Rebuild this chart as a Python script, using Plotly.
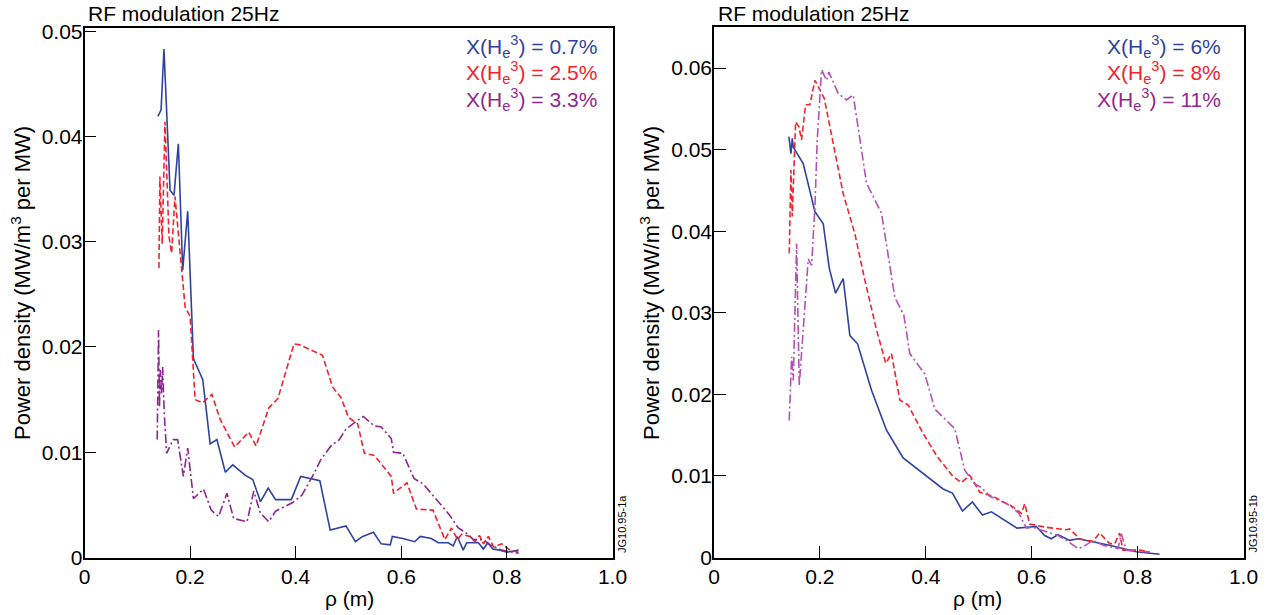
#%% Import libraries
import plotly.graph_objects as go

#%% Data (rho in m, power density in MW/m3 per MW)
# left panel : X(He3) = 0.7%, 2.5%, 3.3%
rho_07 = [0.139, 0.145, 0.1505, 0.162, 0.1695, 0.1777, 0.186, 0.1955, 0.2063, 0.224, 0.238, 0.2508,
          0.2667, 0.2806, 0.3048, 0.3187, 0.3333, 0.3479, 0.3619, 0.3917, 0.4095, 0.4457, 0.4653,
          0.4952, 0.513, 0.527, 0.5473, 0.5619, 0.579, 0.583, 0.603, 0.6254, 0.636, 0.657, 0.6698,
          0.6889, 0.6984, 0.706, 0.7173, 0.7238, 0.746, 0.7555, 0.7638, 0.7733, 0.787, 0.8, 0.822]
pd_07 = [0.0419, 0.0425, 0.0483, 0.0349, 0.0344, 0.0393, 0.0273, 0.0329, 0.0189, 0.0169, 0.0108, 0.0112,
         0.0081, 0.0088, 0.0078, 0.0074, 0.0053, 0.0066, 0.0055, 0.0055, 0.0077, 0.0073, 0.0026,
         0.0030, 0.0015, 0.0020, 0.0024, 0.0013, 0.0012, 0.0020, 0.0018, 0.0015, 0.0020, 0.0018, 0.0014,
         0.0014, 0.0011, 0.0020, 0.0007, 0.0014, 0.0014, 0.0008, 0.0014, 0.0008, 0.0007, 0.0005, 0.0007]

rho_25 = [0.141, 0.1428, 0.1472, 0.1524, 0.16, 0.165, 0.1714, 0.184, 0.1905, 0.2, 0.2095, 0.2234,
          0.2412, 0.2571, 0.2844, 0.311, 0.325, 0.349, 0.3663, 0.3968, 0.408, 0.4508, 0.4698, 0.4857,
          0.5, 0.5174, 0.530, 0.549, 0.581, 0.5853, 0.6107, 0.6286, 0.660, 0.6825, 0.695, 0.7067,
          0.714, 0.730, 0.7397, 0.7479, 0.7555, 0.765, 0.7746, 0.790, 0.806, 0.822]
pd_25 = [0.0275, 0.0362, 0.0298, 0.0414, 0.0305, 0.0289, 0.0343, 0.0273, 0.0238, 0.0229, 0.0150, 0.0147,
         0.0155, 0.0131, 0.0105, 0.0119, 0.0106, 0.0142, 0.0151, 0.0203, 0.0202, 0.0192, 0.0162, 0.0152,
         0.0133, 0.0127, 0.0099, 0.0097, 0.0077, 0.0061, 0.0071, 0.0046, 0.0045, 0.0017, 0.0028, 0.0017,
         0.0022, 0.0020, 0.0015, 0.0021, 0.0013, 0.0020, 0.0010, 0.0013, 0.0007, 0.0005]

rho_33 = [0.1377, 0.1402, 0.142, 0.1434, 0.146, 0.148, 0.151, 0.1555, 0.168, 0.1764, 0.1872, 0.1955,
          0.2063, 0.2253, 0.24, 0.254, 0.2698, 0.2825, 0.3079, 0.3206, 0.3333, 0.349, 0.3619, 0.3936,
          0.4114, 0.4317, 0.4476, 0.4667, 0.4825, 0.4952, 0.514, 0.528, 0.549, 0.5619, 0.581, 0.5853,
          0.603, 0.624, 0.6413, 0.6667, 0.692, 0.708, 0.7238, 0.7365, 0.7555, 0.768, 0.79, 0.822]
pd_33 = [0.0112, 0.0216, 0.0143, 0.0178, 0.0156, 0.0181, 0.0137, 0.0099, 0.0112, 0.0112, 0.0077, 0.0104,
         0.0056, 0.0065, 0.0045, 0.0039, 0.0061, 0.0037, 0.0034, 0.0063, 0.0042, 0.0034, 0.0044, 0.0052,
         0.0059, 0.0077, 0.0093, 0.0106, 0.0112, 0.0122, 0.0129, 0.0134, 0.0125, 0.0124, 0.0113, 0.0100,
         0.0099, 0.0075, 0.0070, 0.0055, 0.0040, 0.0028, 0.0023, 0.0017, 0.0017, 0.0012, 0.0007, 0.0004]

# right panel : X(He3) = 6%, 8%, 11%
rho_6 = [0.1415, 0.1453, 0.1478, 0.1497, 0.1685, 0.1906, 0.2063, 0.2176, 0.2296, 0.244, 0.2566, 0.2711,
         0.2975, 0.3258, 0.3572, 0.4327, 0.4503, 0.4692, 0.488, 0.507, 0.524, 0.5723, 0.6088, 0.6245,
         0.637, 0.6497, 0.6717, 0.6874, 0.747, 0.7975, 0.8415]
pd_6 = [0.0516, 0.0495, 0.0514, 0.0503, 0.0483, 0.0424, 0.0409, 0.0355, 0.0324, 0.0342, 0.0272, 0.0262,
        0.0205, 0.0156, 0.0122, 0.0084, 0.0079, 0.0057, 0.0068, 0.0052, 0.0056, 0.0036, 0.0038, 0.0027,
        0.0023, 0.0028, 0.0021, 0.0023, 0.0015, 0.0007, 0.0004]

rho_8 = [0.1421, 0.1453, 0.1478, 0.1541, 0.1604, 0.1654, 0.173, 0.1811, 0.1906, 0.2019, 0.2082, 0.2107,
         0.2283, 0.244, 0.266, 0.2849, 0.307, 0.3245, 0.3352, 0.351, 0.3666, 0.395, 0.4202, 0.4516,
         0.4673, 0.483, 0.5019, 0.527, 0.5648, 0.5805, 0.5868, 0.5962, 0.6277, 0.6654, 0.6717, 0.6906,
         0.703, 0.7157, 0.7283, 0.747, 0.757, 0.766, 0.7723, 0.8038, 0.8226]
pd_8 = [0.0373, 0.0475, 0.0418, 0.0534, 0.0528, 0.0512, 0.0555, 0.0555, 0.0585, 0.0571, 0.0563, 0.0555,
        0.0499, 0.0446, 0.0397, 0.0340, 0.0279, 0.0238, 0.0250, 0.0193, 0.0187, 0.0152, 0.0125, 0.0099,
        0.0092, 0.0101, 0.0080, 0.0075, 0.0062, 0.0054, 0.0066, 0.0041, 0.0037, 0.0034, 0.0035, 0.0023,
        0.0021, 0.0020, 0.0030, 0.0017, 0.0017, 0.0030, 0.0009, 0.0009, 0.0007]

rho_11 = [0.1421, 0.1466, 0.1497, 0.156, 0.161, 0.178, 0.1843, 0.1906, 0.195, 0.2032, 0.2126, 0.217,
          0.2346, 0.2503, 0.2629, 0.288, 0.3164, 0.3415, 0.3585, 0.3698, 0.3981, 0.417, 0.4547, 0.4736,
          0.4925, 0.505, 0.5208, 0.5458, 0.5585, 0.576, 0.59, 0.6025, 0.6214, 0.6497, 0.6654, 0.6874,
          0.697, 0.7157, 0.7346, 0.763, 0.7692, 0.7786, 0.804, 0.8226]
pd_11 = [0.0168, 0.0246, 0.0217, 0.0385, 0.0211, 0.0366, 0.0358, 0.0430, 0.0512, 0.0598, 0.0585, 0.0595,
         0.0569, 0.0561, 0.0567, 0.0459, 0.0422, 0.0319, 0.0297, 0.0250, 0.0225, 0.0182, 0.0158, 0.0107,
         0.0090, 0.0086, 0.0075, 0.0068, 0.0064, 0.0054, 0.0036, 0.0037, 0.0033, 0.0027, 0.0021, 0.0011,
         0.0013, 0.0021, 0.0015, 0.0011, 0.0029, 0.0009, 0.0007, 0.0007]

x_ticks = [0, 0.2, 0.4, 0.6, 0.8, 1.0]
x_labels = ["0", "0.2", "0.4", "0.6", "0.8", "1.0"]
y_ticks_left = [0, 0.01, 0.02, 0.03, 0.04, 0.05]
y_labels_left = ["0", "0.01", "0.02", "0.03", "0.04", "0.05"]
y_ticks_right = [0, 0.01, 0.02, 0.03, 0.04, 0.05, 0.06]
y_labels_right = ["0", "0.01", "0.02", "0.03", "0.04", "0.05", "0.06"]

legend_left = ["X(H<sub>e</sub><sup>3</sup>) = 0.7%", "X(H<sub>e</sub><sup>3</sup>) = 2.5%",
               "X(H<sub>e</sub><sup>3</sup>) = 3.3%"]
legend_right = ["X(H<sub>e</sub><sup>3</sup>) = 6%", "X(H<sub>e</sub><sup>3</sup>) = 8%",
                "X(H<sub>e</sub><sup>3</sup>) = 11%"]

#%% Colours / styles
BLUE = "#2f42a0"
RED = "#f2232d"
PURPLE_L = "#8e2590"
PURPLE_R = "#b550b5"
TXT_PURPLE = "#92278f"
FONT = "Liberation Sans, Arial, sans-serif"
W, H = 1272, 615

fig = go.Figure()

fig.add_trace(go.Scatter(x=rho_07, y=pd_07, mode="lines", line=dict(color=BLUE, width=1.6),
                         xaxis="x", yaxis="y"))
fig.add_trace(go.Scatter(x=rho_25, y=pd_25, mode="lines", line=dict(color=RED, width=1.6, dash="6px,3px"),
                         xaxis="x", yaxis="y"))
fig.add_trace(go.Scatter(x=rho_33, y=pd_33, mode="lines",
                         line=dict(color=PURPLE_L, width=1.6, dash="9px,3px,2px,3px"),
                         xaxis="x", yaxis="y"))

fig.add_trace(go.Scatter(x=rho_6, y=pd_6, mode="lines", line=dict(color=BLUE, width=1.6),
                         xaxis="x2", yaxis="y2"))
fig.add_trace(go.Scatter(x=rho_8, y=pd_8, mode="lines", line=dict(color=RED, width=1.6, dash="6px,3px"),
                         xaxis="x2", yaxis="y2"))
fig.add_trace(go.Scatter(x=rho_11, y=pd_11, mode="lines",
                         line=dict(color=PURPLE_R, width=1.6, dash="9px,3px,2px,3px"),
                         xaxis="x2", yaxis="y2"))

# axes, box style with inner ticks
ax = dict(showline=True, mirror=True, linecolor="black", linewidth=1.5, ticks="inside", ticklen=12,
          tickwidth=1.2, tickcolor="black", showgrid=False, zeroline=False, automargin=False,
          tickfont=dict(family=FONT, size=21, color="black"), fixedrange=True)

dom_xl = [84.5 / W, 612.5 / W]
dom_xr = [714 / W, 1243.5 / W]
dom_yl = [(H - 557.5) / H, (H - 28) / H]
dom_yr = [(H - 557.5) / H, (H - 26.5) / H]

fig.update_layout(
    width=W, height=H, margin=dict(l=0, r=0, t=0, b=0),
    paper_bgcolor="white", plot_bgcolor="white", showlegend=False,
    font=dict(family=FONT, color="black"),
    xaxis=dict(ax, domain=dom_xl, range=[0, 1.0], tickvals=x_ticks, ticktext=x_labels, anchor="y"),
    yaxis=dict(ax, domain=dom_yl, range=[0, 0.0503], tickvals=y_ticks_left, ticktext=y_labels_left,
               anchor="x", ticklabelstandoff=-4),
    xaxis2=dict(ax, domain=dom_xr, range=[0, 1.0], tickvals=x_ticks, ticktext=x_labels, anchor="y2"),
    yaxis2=dict(ax, domain=dom_yr, range=[0, 0.0651], tickvals=y_ticks_right, ticktext=y_labels_right,
                anchor="x2", ticklabelstandoff=-4),
)

#%% Annotations: panel titles, axis titles, legends, figure ids
ytitle = "Power density (MW/m<sup>3</sup> per MW)"
for x0, xt, yt in [(86, 349, 21), (716, 977, 650)]:
    fig.add_annotation(x=x0 / W, y=1 - 14 / H, xref="paper", yref="paper", xanchor="left", yanchor="middle",
                       text="RF modulation 25Hz", showarrow=False, font=dict(size=21, color="black"))
    fig.add_annotation(x=xt / W, y=1 - 598 / H, xref="paper", yref="paper", xanchor="center",
                       yanchor="middle", text="ρ (m)", showarrow=False, font=dict(size=21, color="black"))
    fig.add_annotation(x=yt / W, y=1 - 283 / H, xref="paper", yref="paper", xanchor="center",
                       yanchor="middle", text=ytitle, textangle=-90, showarrow=False,
                       font=dict(size=22, color="black"))

leg_cols = [BLUE, RED, TXT_PURPLE]
for i, (tl, tr) in enumerate(zip(legend_left, legend_right)):
    yy = 1 - (47 + 26 * i) / H
    fig.add_annotation(x=599 / W, y=yy, xref="paper", yref="paper", xanchor="right", yanchor="middle",
                       text=tl, showarrow=False, font=dict(size=21, color=leg_cols[i]))
    fig.add_annotation(x=1223 / W, y=yy, xref="paper", yref="paper", xanchor="right", yanchor="middle",
                       text=tr, showarrow=False, font=dict(size=21, color=leg_cols[i]))

for x0, lab in [(622 / W, "JG10.95-1a"), (1252 / W, "JG10.95-1b")]:
    fig.add_annotation(x=x0, y=(H - 555) / H, xref="paper", yref="paper", xanchor="center", yanchor="bottom",
                       text=lab, textangle=-90, showarrow=False, font=dict(size=11, color="black"))

# page has a default 8px body margin; remove it so the figure fills the window
fig.write_html("out.html", config={"displayModeBar": False},
               post_script="document.body.style.margin = '0';")
